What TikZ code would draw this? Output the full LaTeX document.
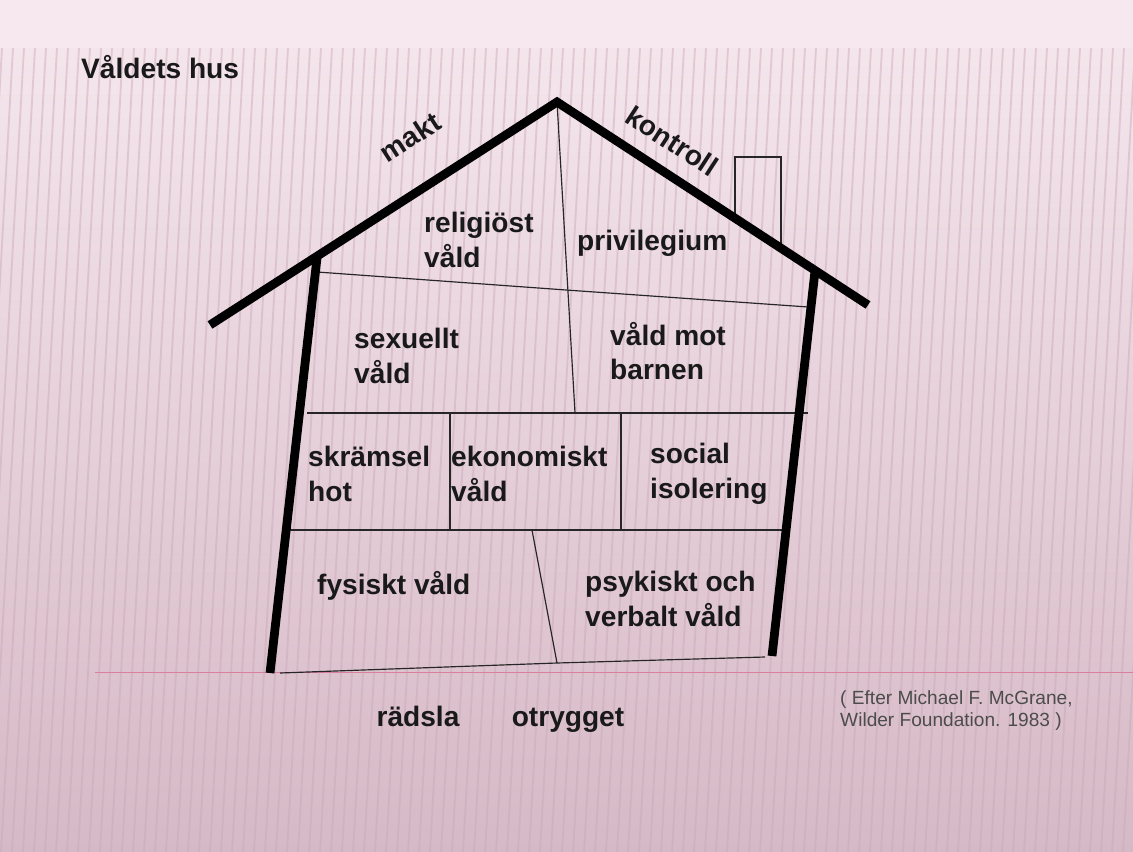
\documentclass[tikz,border=0pt]{standalone}
\usepackage{fontspec}
\setmainfont{Liberation Sans}
\begin{document}
\begin{tikzpicture}[x=0.03cm,y=-0.03cm,
  thickline/.style={line width=7.5pt,line cap=butt},
  thinline/.style={line width=1pt,black!85},
  lbl/.style={font=\fontsize{24}{29.7}\selectfont\bfseries,text=black!90,align=left,inner sep=0pt},
  cite/.style={font=\fontsize{16.3}{18.7}\selectfont,text=black!70,align=left,inner sep=0pt}]
\definecolor{pinktop}{HTML}{F6E8EE}
\definecolor{pinkbot}{HTML}{D6B9C6}
\definecolor{stripe}{HTML}{C9A8B8}
\definecolor{redline}{HTML}{D9809C}
\useasboundingbox (0,0) rectangle (1133,852);
\shade[top color=pinktop,bottom color=pinkbot] (0,0) rectangle (1133,852);
\fill[pinktop] (0,0) rectangle (1133,48);
\begin{scope}
\clip (0,48) rectangle (1133,852);
\foreach \x in {-120,-109,...,1200} {
  \draw[stripe,opacity=0.45,line width=1.6pt] (\x+45,48) -- (\x,852);
}
\end{scope}
% ground line
\draw[redline,line width=0.8pt] (95,672) -- (1133,672);
% coordinates
\coordinate (eaveL) at (210,325);
\coordinate (peak) at (557,102);
\coordinate (eaveR) at (868,305);
\coordinate (wallLt) at (317,258);
\coordinate (wallLb) at (270,673);
\coordinate (wallRt) at (815,271);
\coordinate (wallRb) at (772,656);
% chimney
\draw[thinline] (735,218) -- (735,157) -- (781,157) -- (781,248);
% inner lines
\draw[thinline] (peak) -- (575,413);
\draw[thinline] (317,272) -- (566,290) -- (808,307);
\draw[thinline] (307,413) -- (808,413);
\draw[thinline] (450,413) -- (450,530);
\draw[thinline] (621,413) -- (621,530);
\draw[thinline] (290,530) -- (786,530);
\draw[thinline] (532,530) -- (557,663);
\draw[thinline] (280,673) -- (557,663) -- (765,657);
% roof and walls
\draw[thickline,line join=miter] (eaveL) -- (peak) -- (eaveR);
\draw[thickline] (wallLt) -- (wallLb);
\draw[thickline] (wallRt) -- (wallRb);
% labels
\node[lbl,anchor=west] (title) at (81,67) {Våldets hus};
\node[lbl,rotate=32.7] (makt) at (410,137) {makt};
\node[lbl,rotate=-33] (kontroll) at (672,141) {kontroll};
\node[lbl,anchor=west] (rel) at (424,240) {religiöst\\våld};
\node[lbl,anchor=west] (priv) at (577,243) {privilegium};
\node[lbl,anchor=west] (sex) at (354,356) {sexuellt\\våld};
\node[lbl,anchor=west] (barn) at (610,351) {våld mot\\barnen};
\node[lbl,anchor=west] (skr) at (308,474) {skrämsel\\hot};
\node[lbl,anchor=west] (eko) at (451,474) {ekonomiskt\\våld};
\node[lbl,anchor=west] (soc) at (650,474) {social\\isolering};
\node[lbl,anchor=west] (fys) at (317,586) {fysiskt våld};
\node[lbl,anchor=west] (psy) at (585,599) {psykiskt och\\verbalt våld};
\node[lbl,anchor=base] (rad) at (418,726) {rädsla};
\node[lbl,anchor=base] (otr) at (568,726) {otrygget};
\node[cite,anchor=west] (cit) at (840,711) {( Efter Michael F. McGrane,\\Wilder Foundation. 1983 )};
\end{tikzpicture}
\end{document}
